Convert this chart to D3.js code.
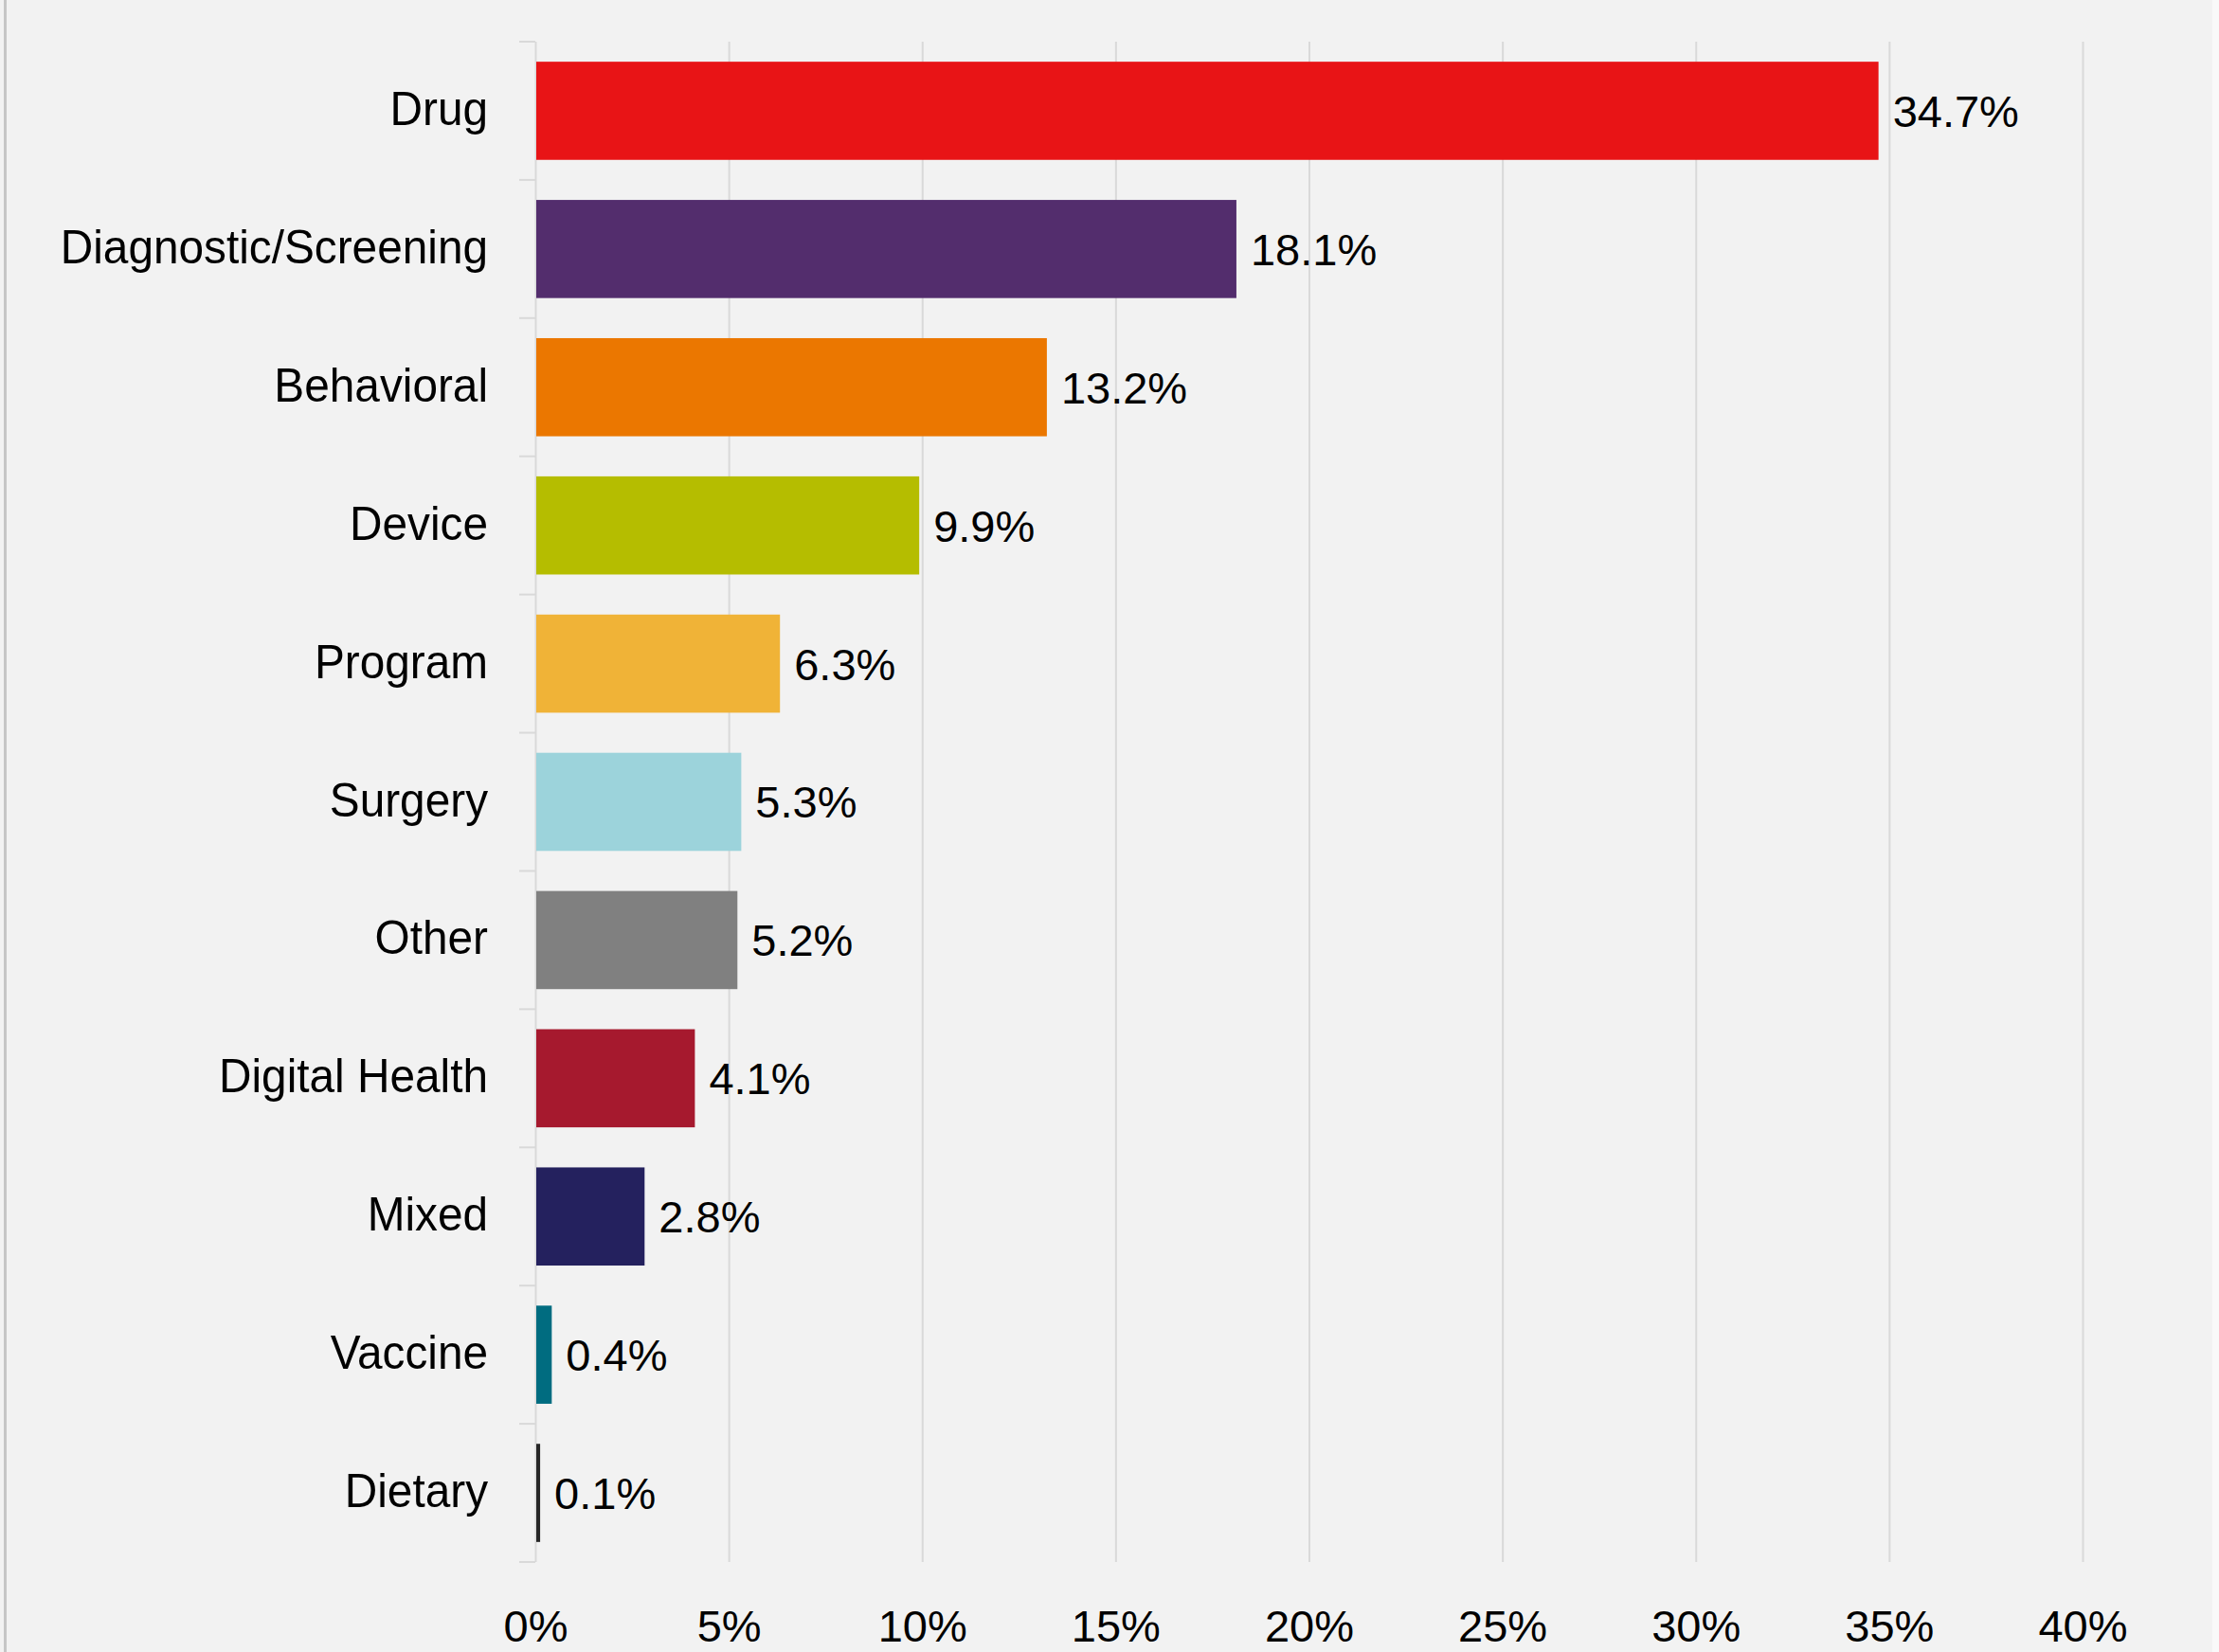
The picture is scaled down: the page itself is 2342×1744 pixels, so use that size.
<!DOCTYPE html>
<html>
<head>
<meta charset="utf-8">
<script src="https://cdn.jsdelivr.net/npm/d3@7"></script>
<style>
	html, body { margin: 0; padding: 0; background: #f9f9f9; }
	svg { display: block; }
</style>
</head>
<body>
<div id="chart"></div>
<script>

// values (share of trials, %)
const categories = ['Drug', 'Diagnostic/Screening', 'Behavioral', 'Device', 'Program',
	'Surgery', 'Other', 'Digital Health', 'Mixed', 'Vaccine', 'Dietary'];
const shares = [34.7, 18.1, 13.2, 9.9, 6.3, 5.3, 5.2, 4.1, 2.8, 0.4, 0.1];
const xTicks = [0, 5, 10, 15, 20, 25, 30, 35, 40];

const barColors = ['#e81416', '#532d6d', '#eb7700', '#b5bd00', '#f0b337',
	'#9cd3db', '#808080', '#a6192e', '#24215e', '#006c80', '#262626'];

class BarChart {

	constructor(options) {
		this.element = options.element;
		this.data = categories.map((c, i) => ({ category: c, value: shares[i] }));
		this.draw();
	}

	draw() {
		this.width = 2342;
		this.height = 1744;
		this.left = 565;
		this.right = 2198;
		this.top = 44;
		this.bottom = 1649;

		this.createSVG();
		this.createScales();
		this.createAxes();
		this.createBars();
	}

	createSVG() {
		this.svg = d3.select(this.element)
			.append('svg')
				.attr('width', this.width)
				.attr('height', this.height);

		// chart area, with the thin frame line on the left
		this.svg.append('rect')
			.attr('width', 2335)
			.attr('height', this.height)
			.attr('fill', '#f2f2f2');
		this.svg.append('rect')
			.attr('x', 4)
			.attr('width', 3)
			.attr('height', this.height)
			.attr('fill', '#c6c6c6');
	}

	createScales() {
		this.xScale = d3.scaleLinear()
			.domain([0, 40])
			.range([this.left, this.right]);

		this.yScale = d3.scaleBand()
			.domain(categories)
			.range([this.top, this.bottom])
			.paddingInner(0.29)
			.paddingOuter(0.145);

		this.colorScale = d3.scaleOrdinal()
			.domain(categories)
			.range(barColors);
	}

	createAxes() {

		// vertical grid lines + percent labels
		const xAxis = d3.axisBottom(this.xScale)
			.tickValues(xTicks)
			.tickSize(-(this.bottom - this.top))
			.tickFormat(d => d + '%');

		const gx = this.svg.append('g')
			.attr('class', 'xAxis')
			.attr('transform', `translate(0, ${this.bottom})`)
			.call(xAxis);
		gx.select('.domain').remove();
		gx.selectAll('line')
			.attr('stroke', '#d9d9d9')
			.attr('stroke-width', 2);
		gx.selectAll('text')
			.attr('y', 84)
			.attr('dy', null)
			.attr('fill', '#000')
			.style('font-family', '"Liberation Sans", Arial, sans-serif')
			.style('font-size', '47px');

		// small ticks between the categories
		const gap = this.yScale.step() - this.yScale.bandwidth();
		const edges = categories.map(c => this.yScale(c) - gap / 2);
		edges.push(this.bottom);

		this.svg.append('g')
			.selectAll('line')
			.data(edges).enter()
			.append('line')
				.attr('x1', this.left - 17)
				.attr('x2', this.left)
				.attr('y1', d => d)
				.attr('y2', d => d)
				.attr('stroke', '#d9d9d9')
				.attr('stroke-width', 2);

		// category labels (the original font is a narrow one, so squeeze a bit)
		const yAxis = d3.axisLeft(this.yScale)
			.tickSize(0)
			.tickPadding(50);

		const gy = this.svg.append('g')
			.attr('class', 'yAxis')
			.attr('transform', `translate(${this.left}, 0)`)
			.call(yAxis);
		gy.select('.domain').remove();
		gy.selectAll('text')
			.attr('dy', '0.3em')
			.attr('fill', '#000')
			.style('font-family', '"Liberation Sans", Arial, sans-serif')
			.style('font-size', '50px')
			.each(function() {
				const w = this.getComputedTextLength();
				d3.select(this)
					.attr('textLength', w * 0.955)
					.attr('lengthAdjust', 'spacingAndGlyphs');
			});
	}

	createBars() {
		const that = this;

		this.bars = this.svg.append('g');

		this.bars.selectAll('rect')
			.data(this.data).enter()
			.append('rect')
				.attr('x', this.xScale(0) + 1)
				.attr('y', d => that.yScale(d.category))
				.attr('width', d => that.xScale(d.value) - that.xScale(0))
				.attr('height', this.yScale.bandwidth())
				.attr('fill', d => that.colorScale(d.category));

		this.bars.selectAll('text')
			.data(this.data).enter()
			.append('text')
				.attr('x', d => that.xScale(d.value) + 16)
				.attr('y', d => that.yScale(d.category) + that.yScale.bandwidth() / 2)
				.attr('dy', '0.36em')
				.style('font-family', '"Liberation Sans", Arial, sans-serif')
				.style('font-size', '47px')
				.attr('fill', '#000')
				.text(d => d.value.toFixed(1) + '%');
	}

}

new BarChart({ element: '#chart' });

</script>
</body>
</html>
